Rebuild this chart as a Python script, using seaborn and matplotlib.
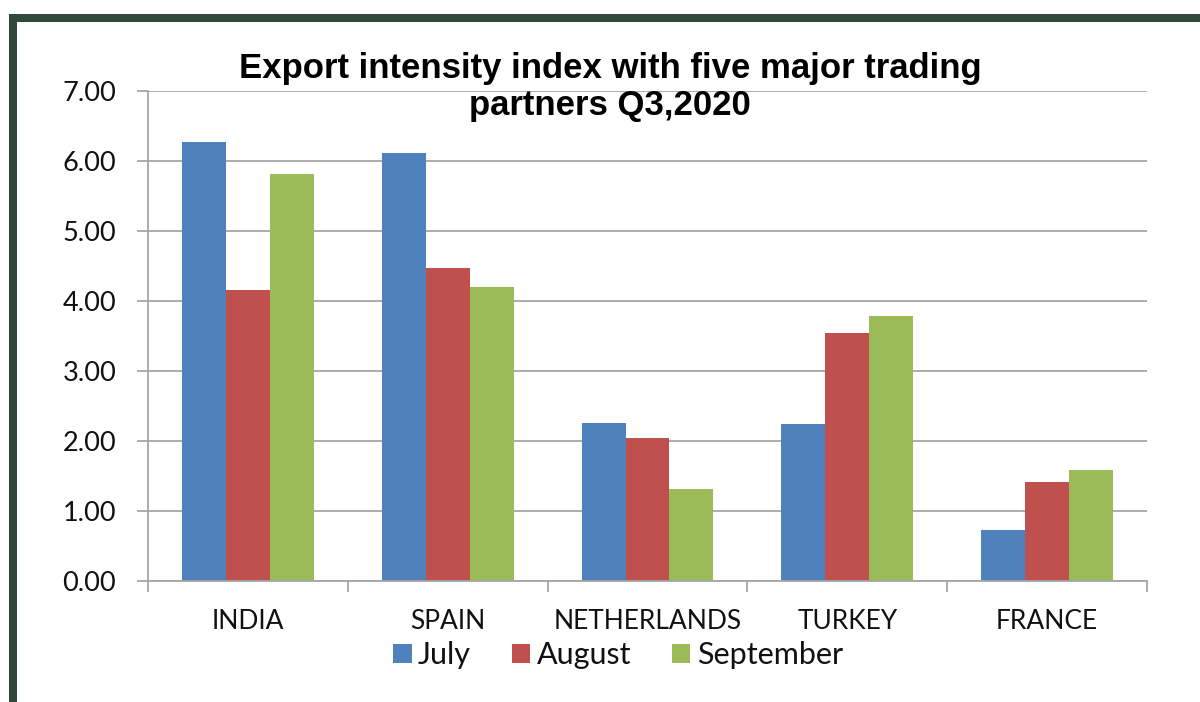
import matplotlib
matplotlib.use("Agg")
import matplotlib.pyplot as plt
from matplotlib.patches import Rectangle, Patch
import seaborn as sns
import pandas as pd

partners = ["INDIA", "SPAIN", "NETHERLANDS", "TURKEY", "FRANCE"]
months = ["July", "August", "September"]
july = [6.27, 6.11, 2.26, 2.25, 0.73]
august = [4.16, 4.47, 2.05, 3.54, 1.41]
september = [5.81, 4.20, 1.32, 3.79, 1.58]
colors = ["#4F81BD", "#C0504D", "#9BBB59"]
y_ticks = [0, 1, 2, 3, 4, 5, 6, 7]

rows = []
for m, vals in zip(months, [july, august, september]):
    for p, v in zip(partners, vals):
        rows.append({"partner": p, "month": m, "value": v})
df = pd.DataFrame(rows)

sns.set_style("white")
plt.rcParams["font.family"] = ["Lato", "DejaVu Sans"]

W, H = 1200, 702
fig = plt.figure(figsize=(W / 100, H / 100), dpi=100)
fig.patch.set_facecolor("white")

# dark frame on top and left edges
frame = "#2F4A3C"
fig.add_artist(Rectangle((9 / W, 0), 8 / W, (H - 14) / H, transform=fig.transFigure,
                         color=frame, lw=0))
fig.add_artist(Rectangle((9 / W, (H - 22) / H), (W - 9) / W, 8 / H, transform=fig.transFigure,
                         color=frame, lw=0))

ax = fig.add_axes([148 / W, (H - 581) / H, 999 / W, 490 / H])
sns.barplot(data=df, x="partner", y="value", hue="month", order=partners,
            hue_order=months, palette=colors, width=0.66, gap=0,
            saturation=1, ax=ax, legend=False, edgecolor="none")

grid_c = "#A6A6A6"
txt_c = "#111111"
ax.set_ylim(0, 7)
ax.set_xlim(-0.5, 4.5)
ax.set_yticks(y_ticks)
ax.set_yticklabels([f"{t:.2f}" for t in y_ticks])
ax.yaxis.grid(True, color=grid_c, lw=1.3)
ax.set_axisbelow(True)
for s in ["top", "right"]:
    ax.spines[s].set_visible(False)
for s in ["left", "bottom"]:
    ax.spines[s].set_color(grid_c)
    ax.spines[s].set_linewidth(1.3)

ax.tick_params(axis="y", length=8, width=1.3, color=grid_c, pad=15, labelsize=19.5,
               labelcolor=txt_c, left=True)
ax.set_xticks(range(len(partners)))
ax.set_xticklabels(partners)
ax.tick_params(axis="x", which="major", length=0, pad=20, labelsize=19, labelcolor=txt_c)
ax.set_xticks([i - 0.5 for i in range(len(partners) + 1)], minor=True)
ax.tick_params(axis="x", which="minor", length=8, width=1.3, color=grid_c, bottom=True)
ax.set_xlabel("")
ax.set_ylabel("")

fig.text(610 / W, 1 - 87 / H, "Export intensity index with five major trading\npartners Q3,2020",
         ha="center", va="center", fontsize=25, fontweight="bold", color="black",
         family=["Liberation Sans", "DejaVu Sans"], linespacing=1.18)

handles = [Patch(facecolor=c, edgecolor="none", label=m) for c, m in zip(colors, months)]
fig.legend(handles=handles, loc="center", bbox_to_anchor=(618 / W, 1 - 655 / H), ncol=3,
           frameon=False, fontsize=22, handlelength=0.6, handleheight=0.6,
           handletextpad=0.2, columnspacing=1.35, labelcolor=txt_c)

fig.savefig("out.png", dpi=100, facecolor="white")
